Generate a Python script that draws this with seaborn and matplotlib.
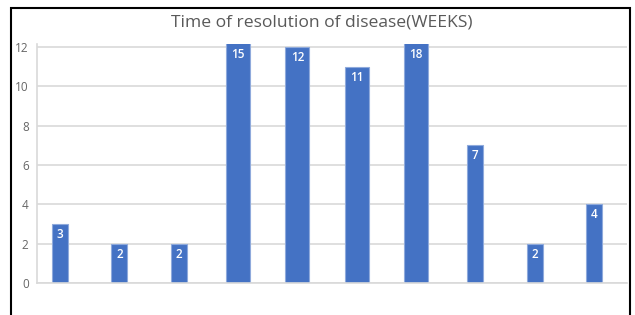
import pandas as pd
import seaborn as sns
import matplotlib.pyplot as plt
from matplotlib.patches import Rectangle

# values (bars above 12 are cut off by the axis)
patients = ["1", "2", "3", "4", "5", "6", "7", "8", "9", "10"]
weeks = [3, 2, 2, 15, 12, 11, 18, 7, 2, 4]
y_ticks = [0, 2, 4, 6, 8, 10, 12]

data = pd.DataFrame({"patient": patients, "weeks": weeks})

sns.set_style("white")
plt.rcParams["font.family"] = ["Open Sans", "DejaVu Sans"]

fig = plt.figure(figsize=(6.35, 3.15), dpi=100)
ax = fig.add_axes([0.0583, 0.1016, 0.9291, 0.7587])

sns.barplot(x="patient", y="weeks", data=data, color="#4472C4",
            saturation=1, edgecolor="#8FAADC", linewidth=0.8, ax=ax)

top = 12.15
ax.set_ylim(0, top)
ax.set_xlim(-0.388, 9.556)

# bars with two-digit labels are drawn wider in the original
for patch, val in zip(ax.patches, weeks):
    w = 0.40 if val >= 10 else 0.27
    cx = patch.get_x() + patch.get_width() / 2
    patch.set_width(w)
    patch.set_x(cx - w / 2)
    ax.annotate(str(val), (cx, min(val, top)), xytext=(0, -3),
                textcoords="offset points", ha="center", va="top",
                color="white", fontsize=8.5, fontweight="semibold")

ax.set_yticks(y_ticks)
ax.yaxis.grid(True, color="#D9D9D9", linewidth=1.2)
ax.set_axisbelow(True)
ax.tick_params(axis="y", length=0, pad=6, labelsize=8.5, labelcolor="#666666")
ax.set_xticks([])
ax.set_xlabel("")
ax.set_ylabel("")

for side in ["top", "right"]:
    ax.spines[side].set_visible(False)
ax.spines["left"].set_color("#D9D9D9")
ax.spines["bottom"].set_color("#D9D9D9")
ax.spines["left"].set_linewidth(1.2)
ax.spines["bottom"].set_linewidth(1.2)

fig.text(0.506, 0.928, "Time of resolution of disease(WEEKS)", ha="center",
         va="center", fontsize=12.6, color="#595959")

# black frame of the screenshot
fig.patches.append(Rectangle((0.0173, -0.02), 0.9747, 0.9946, transform=fig.transFigure,
                             fill=False, edgecolor="black", linewidth=1.5))

fig.savefig("out.png", dpi=100)
